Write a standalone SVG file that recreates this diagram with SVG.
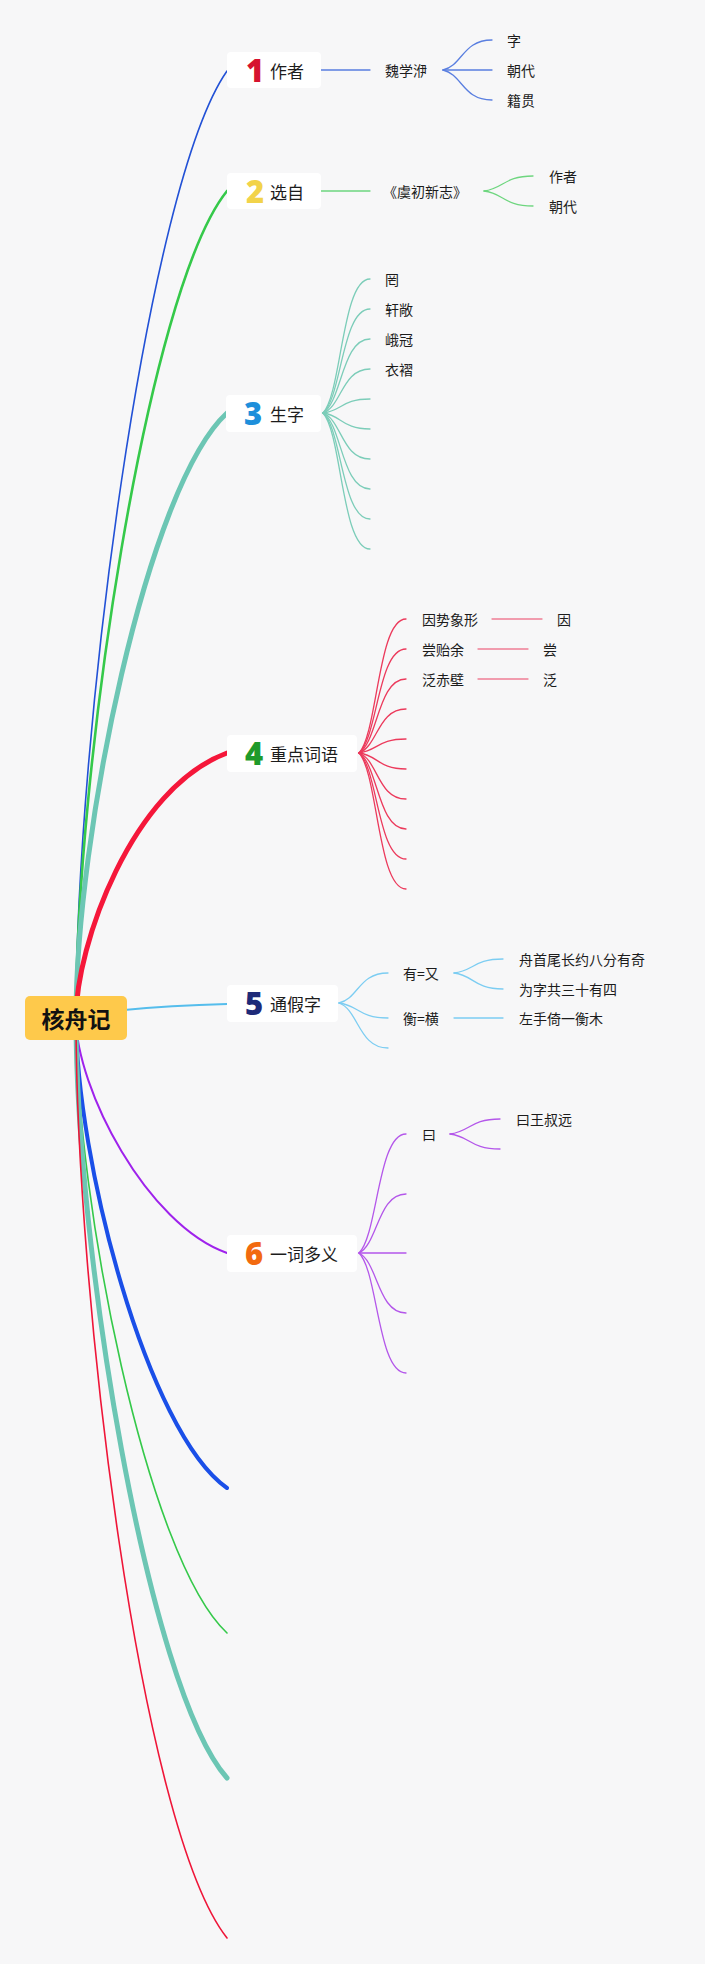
<svg xmlns="http://www.w3.org/2000/svg" width="705" height="1964" viewBox="0 0 705 1964">
<style>
.t{font-family:"Noto Sans CJK SC","Noto Sans",sans-serif;fill:#1c1c1c;dominant-baseline:central}
.lbl{font-size:17px}
.sub{font-size:14px}
.num{font-family:"Noto Sans","Open Sans",sans-serif;font-weight:900;font-size:31px;text-anchor:middle;dominant-baseline:central}
.box{fill:#ffffff}
.c{fill:none;stroke-linecap:round}
.s{fill:none;stroke-width:1.3;stroke-linecap:round}
</style>
<rect x="0" y="0" width="705" height="1964" fill="#f7f7f8"/>
<g id="connectors">
  <path class="c" stroke="#2251d6" stroke-width="1.6" d="M76 1018 C76 734 147 185 227 71"/>
  <path class="c" stroke="#35c94a" stroke-width="2.6" d="M76 1018 C76 770 147 290 227 191"/>
  <path class="c" stroke="#6cc6b4" stroke-width="5" d="M76 1018 C76 836 147 486 227 413"/>
  <path class="c" stroke="#f5173a" stroke-width="5" d="M76 1018 C76 945 132 788 227 753"/>
  <path class="c" stroke="#55bdec" stroke-width="2" d="M76 1018 C76 1014 147 1006 227 1004"/>
  <path class="c" stroke="#9f22ec" stroke-width="2" d="M76 1018 C76 1088 147 1225 227 1253"/>
  <path class="c" stroke="#1a4fe8" stroke-width="4" d="M76 1018 C76 1159 147 1432 227 1488"/>
  <path class="c" stroke="#35c94a" stroke-width="1.6" d="M76 1018 C76 1202 147 1559 227 1633"/>
  <path class="c" stroke="#6cc6b4" stroke-width="5" d="M76 1018 C76 1246 147 1687 227 1778"/>
  <path class="c" stroke="#ef1538" stroke-width="1.6" d="M76 1018 C76 1294 140 1828 227 1938"/>

  <!-- subtree 1 -->
  <g stroke="#5a7fe0">
    <path class="s" d="M321 70 L370 70"/>
    <path class="s" d="M443 70 C462.6 65.5 462.6 40 492 40"/>
    <path class="s" d="M443 70 L492 70"/>
    <path class="s" d="M443 70 C462.6 74.5 462.6 100 492 100"/>
  </g>
  <!-- subtree 2 -->
  <g stroke="#6ed67f">
    <path class="s" d="M321 191 L370 191"/>
    <path class="s" d="M484 191 C503.6 188.8 503.6 176 533 176"/>
    <path class="s" d="M484 191 C503.6 193.2 503.6 206 533 206"/>
  </g>
  <!-- subtree 3 -->
  <g stroke="#7ccdb9">
    <path class="s" d="M323 413 C341.8 393 341.8 279 370 279"/>
    <path class="s" d="M323 413 C341.8 397.4 341.8 309 370 309"/>
    <path class="s" d="M323 413 C341.8 401.9 341.8 339 370 339"/>
    <path class="s" d="M323 413 C341.8 406.4 341.8 369 370 369"/>
    <path class="s" d="M323 413 C341.8 410.9 341.8 399 370 399"/>
    <path class="s" d="M323 413 C341.8 415.4 341.8 429 370 429"/>
    <path class="s" d="M323 413 C341.8 419.9 341.8 459 370 459"/>
    <path class="s" d="M323 413 C341.8 424.4 341.8 489 370 489"/>
    <path class="s" d="M323 413 C341.8 428.9 341.8 519 370 519"/>
    <path class="s" d="M323 413 C341.8 433.4 341.8 549 370 549"/>
  </g>
  <!-- subtree 4 -->
  <g stroke="#ec3a5c">
    <path class="s" d="M359 753 C377.8 732.6 377.8 619 406 619"/>
    <path class="s" d="M359 753 C377.8 737.1 377.8 649 406 649"/>
    <path class="s" d="M359 753 C377.8 741.6 377.8 679 406 679"/>
    <path class="s" d="M359 753 C377.8 746.1 377.8 709 406 709"/>
    <path class="s" d="M359 753 C377.8 750.6 377.8 739 406 739"/>
    <path class="s" d="M359 753 C377.8 755.1 377.8 769 406 769"/>
    <path class="s" d="M359 753 C377.8 759.6 377.8 799 406 799"/>
    <path class="s" d="M359 753 C377.8 764.1 377.8 829 406 829"/>
    <path class="s" d="M359 753 C377.8 768.6 377.8 859 406 859"/>
    <path class="s" d="M359 753 C377.8 773.1 377.8 889 406 889"/>
  </g>
  <g stroke="#ef7f95">
    <path class="s" d="M492 619 L542 619"/>
    <path class="s" d="M478 649 L528 649"/>
    <path class="s" d="M478 679 L528 679"/>
  </g>
  <!-- subtree 5 -->
  <g stroke="#7ccdf2">
    <path class="s" d="M339 1003 C358.6 998.5 358.6 973 388 973"/>
    <path class="s" d="M339 1003 C358.6 1005.3 358.6 1018 388 1018"/>
    <path class="s" d="M339 1003 C358.6 1009.8 358.6 1048 388 1048"/>
    <path class="s" d="M454 973 C473.6 970.9 473.6 959 503 959"/>
    <path class="s" d="M454 973 C473.6 975.1 473.6 989 503 989"/>
    <path class="s" d="M454 1018 L503 1018"/>
  </g>
  <!-- subtree 6 -->
  <g stroke="#b457ea">
    <path class="s" d="M359 1253 C377.8 1235.2 377.8 1134 406 1134"/>
    <path class="s" d="M359 1253 C377.8 1244.1 377.8 1194 406 1194"/>
    <path class="s" d="M359 1253 L406 1253"/>
    <path class="s" d="M359 1253 C377.8 1262 377.8 1313 406 1313"/>
    <path class="s" d="M359 1253 C377.8 1271 377.8 1373 406 1373"/>
    <path class="s" d="M450 1134 C470 1131.8 470 1119 500 1119"/>
    <path class="s" d="M450 1134 C470 1136.3 470 1149 500 1149"/>
  </g>
</g>

<g id="root">
  <rect x="25" y="996" width="102" height="44" rx="5" fill="#fec94b"/>
  <text x="76" y="1018" text-anchor="middle" style="font-family:'Noto Sans CJK SC',sans-serif;font-weight:700;font-size:23px;fill:#111;dominant-baseline:central">核舟记</text>
</g>

<g id="n1">
  <rect class="box" x="227" y="52" width="94" height="36" rx="4"/>
  <text class="num" x="255" y="70" fill="#d6132f">1</text>
  <text class="t lbl" x="270" y="70">作者</text>
</g>
<g id="n1-1"><text class="t sub" x="385" y="70">魏学洢</text></g>
<g id="n1-1-1"><text class="t sub" x="507" y="40">字</text></g>
<g id="n1-1-2"><text class="t sub" x="507" y="70">朝代</text></g>
<g id="n1-1-3"><text class="t sub" x="507" y="100">籍贯</text></g>

<g id="n2">
  <rect class="box" x="227" y="173" width="94" height="36" rx="4"/>
  <text class="num" x="255" y="191" fill="#f2d34a">2</text>
  <text class="t lbl" x="270" y="191">选自</text>
</g>
<g id="n2-1"><text class="t sub" x="383" y="191">《虞初新志》</text></g>
<g id="n2-1-1"><text class="t sub" x="549" y="176">作者</text></g>
<g id="n2-1-2"><text class="t sub" x="549" y="206">朝代</text></g>

<g id="n3">
  <rect class="box" x="226" y="395" width="95" height="37" rx="4"/>
  <text class="num" x="253" y="413" fill="#1e8fdb">3</text>
  <text class="t lbl" x="270" y="413">生字</text>
</g>
<g id="n3-1"><text class="t sub" x="385" y="279">罔</text></g>
<g id="n3-2"><text class="t sub" x="385" y="309">轩敞</text></g>
<g id="n3-3"><text class="t sub" x="385" y="339">峨冠</text></g>
<g id="n3-4"><text class="t sub" x="385" y="369">衣褶</text></g>

<g id="n4">
  <rect class="box" x="227" y="735" width="130" height="37" rx="4"/>
  <text class="num" x="254" y="753" fill="#1f9a2b">4</text>
  <text class="t lbl" x="270" y="753">重点词语</text>
</g>
<g id="n4-1"><text class="t sub" x="422" y="619">因势象形</text></g>
<g id="n4-1-1"><text class="t sub" x="557" y="619">因</text></g>
<g id="n4-2"><text class="t sub" x="422" y="649">尝贻余</text></g>
<g id="n4-2-1"><text class="t sub" x="543" y="649">尝</text></g>
<g id="n4-3"><text class="t sub" x="422" y="679">泛赤壁</text></g>
<g id="n4-3-1"><text class="t sub" x="543" y="679">泛</text></g>

<g id="n5">
  <rect class="box" x="227" y="985" width="111" height="37" rx="4"/>
  <text class="num" x="254" y="1003" fill="#1e2a78">5</text>
  <text class="t lbl" x="270" y="1003">通假字</text>
</g>
<g id="n5-1"><text class="t sub" x="403" y="973">有=又</text></g>
<g id="n5-1-1"><text class="t sub" x="519" y="959">舟首尾长约八分有奇</text></g>
<g id="n5-1-2"><text class="t sub" x="519" y="989">为字共三十有四</text></g>
<g id="n5-2"><text class="t sub" x="403" y="1018">衡=横</text></g>
<g id="n5-2-1"><text class="t sub" x="519" y="1018">左手倚一衡木</text></g>

<g id="n6">
  <rect class="box" x="227" y="1235" width="130" height="37" rx="4"/>
  <text class="num" x="254" y="1253" fill="#f26a0f">6</text>
  <text class="t lbl" x="270" y="1253">一词多义</text>
</g>
<g id="n6-1"><text class="t sub" x="422" y="1134">曰</text></g>
<g id="n6-1-1"><text class="t sub" x="516" y="1119">曰王叔远</text></g>
</svg>
